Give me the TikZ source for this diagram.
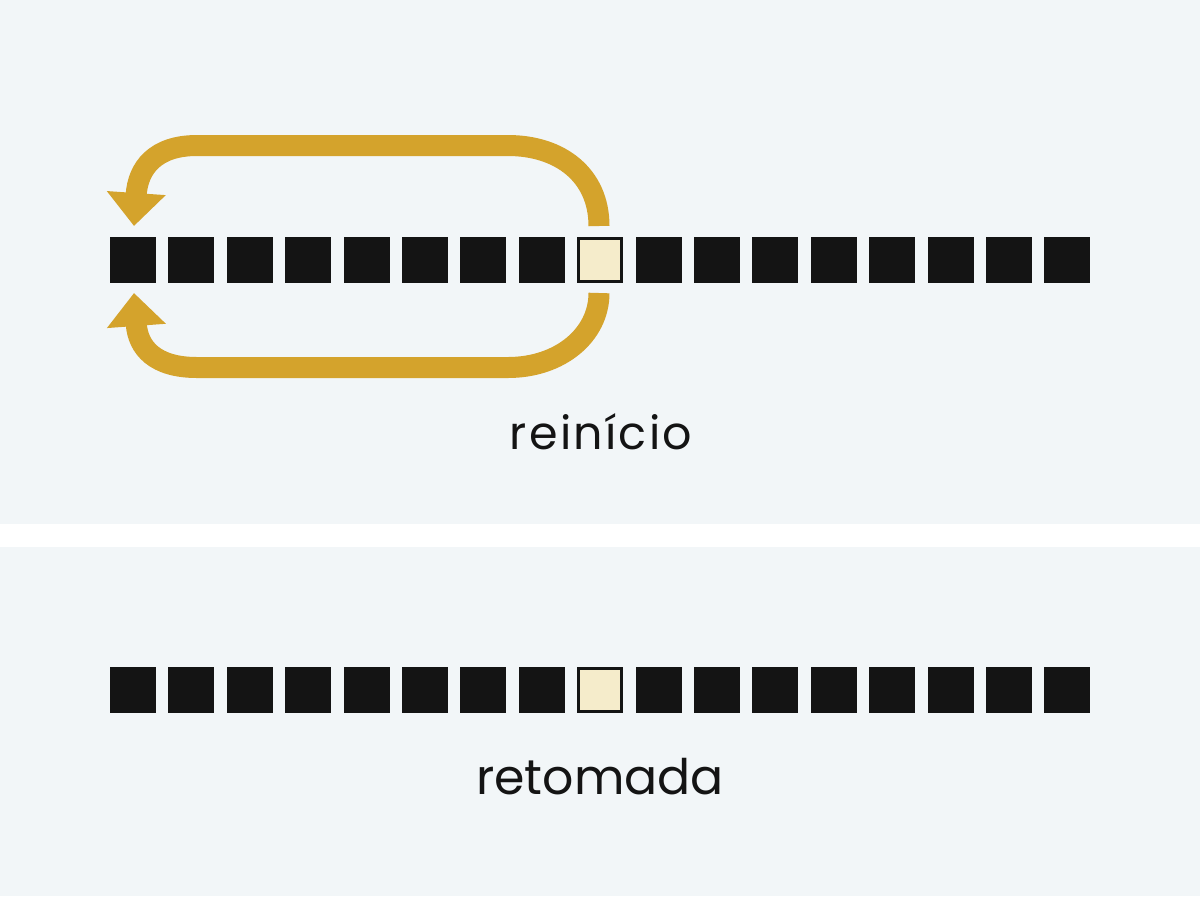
\documentclass[tikz,border=0pt]{standalone}
\usepackage{fontspec}
\setmainfont{Poppins}
\usetikzlibrary{arrows.meta}
\definecolor{bgc}{HTML}{F2F6F8}
\definecolor{gold}{HTML}{D4A32C}
\definecolor{ink}{HTML}{141414}
\definecolor{cream}{HTML}{F5ECCB}
\tikzset{
  sq/.style={fill=ink, draw=none, minimum width=23pt, minimum height=22.75pt, inner sep=0pt, outer sep=0pt},
  sqhi/.style={fill=cream, draw=ink, line width=1.5pt, minimum width=21.5pt, minimum height=21.25pt, inner sep=0pt, outer sep=0pt},
  loop/.style={draw=gold, line width=10.5pt, -{Triangle[length=16.5pt,width=28.5pt]}},
  lbl/.style={anchor=base, text=ink, inner sep=0pt}
}
\begin{document}
\begin{tikzpicture}[x=0.5pt,y=-0.5pt]
\fill[bgc] (0,0) rectangle (1200,896);
\fill[white] (0,524) rectangle (1200,547);
\useasboundingbox (0,0) rectangle (1200,896);
% top row
\foreach \i in {0,...,16}{
  \pgfmathsetmacro{\xx}{133+58.4*\i}
  \ifnum\i=8
    \node[sqhi] (t\i) at (\xx,260) {};
  \else
    \node[sq] (t\i) at (\xx,260) {};
  \fi
}
% bottom row
\foreach \i in {0,...,16}{
  \pgfmathsetmacro{\xx}{133+58.4*\i}
  \ifnum\i=8
    \node[sqhi] (b\i) at (\xx,690) {};
  \else
    \node[sq] (b\i) at (\xx,690) {};
  \fi
}
\coordinate (ts) at (599,226);
\coordinate (te) at (134,226);
\coordinate (bs) at (599,293);
\coordinate (be) at (134,293);
\draw[loop] (ts) .. controls (599,175) and (560,145.5) .. (508,145.5) -- (197,145.5) .. controls (155,145.5) and (138,168) .. (te);
\draw[loop] (bs) .. controls (599,335) and (560,367.5) .. (508,367.5) -- (197,367.5) .. controls (155,367.5) and (138,348) .. (be);
\node[lbl, font=\fontsize{23}{26}\selectfont\addfontfeatures{LetterSpace=5}] (l1) at (601,449) {reinício};
\node[lbl, font=\fontsize{24.5}{28}\selectfont] (l2) at (600,794) {retomada};
\end{tikzpicture}
\end{document}
